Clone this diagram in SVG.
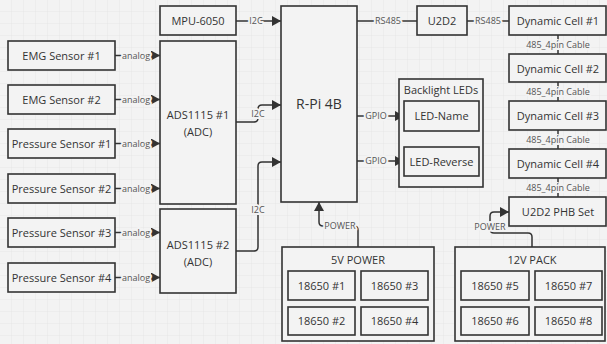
<svg xmlns="http://www.w3.org/2000/svg" width="607" height="344" viewBox="0 0 607 344">
<defs>
<pattern id="grid" width="12" height="12" patternUnits="userSpaceOnUse">
<path d="M12,0 V12 M0,12 H12" fill="none" stroke="#e6e6e6" stroke-width="1"/>
</pattern>
<marker id="arr" markerUnits="userSpaceOnUse" markerWidth="9" markerHeight="10" refX="9" refY="5" orient="auto">
<path d="M0,0 L9,5 L0,10 z" fill="#333"/>
</marker>
</defs>
<style>
.box{fill:#f3f3f3;stroke:#333;stroke-width:1.6}
.t{font-family:"Open Sans","Liberation Sans",sans-serif;font-size:11px;fill:#333;text-anchor:middle}
.big{font-size:14px}
.lbl{font-family:"Open Sans","Liberation Sans",sans-serif;font-size:9px;fill:#555;text-anchor:middle;stroke:#f3f3f3;stroke-width:4;paint-order:stroke;stroke-linejoin:round}
.c{fill:none;stroke:#333;stroke-width:1.5}
</style>
<rect width="607" height="344" fill="#f3f3f3"/>
<rect width="607" height="344" fill="url(#grid)"/>

<g id="connectors">
<path class="c" d="M115,55.5 H160" marker-end="url(#arr)"/>
<path class="c" d="M115,99.5 H160" marker-end="url(#arr)"/>
<path class="c" d="M115,143.5 H160" marker-end="url(#arr)"/>
<path class="c" d="M115,188.5 H160" marker-end="url(#arr)"/>
<path class="c" d="M115,232.5 H160" marker-end="url(#arr)"/>
<path class="c" d="M115,277.5 H160" marker-end="url(#arr)"/>
<text class="lbl" x="136" y="58.5">analog</text>
<text class="lbl" x="136" y="102.5">analog</text>
<text class="lbl" x="136" y="146.5">analog</text>
<text class="lbl" x="136" y="191.5">analog</text>
<text class="lbl" x="136" y="235.5">analog</text>
<text class="lbl" x="136" y="280.5">analog</text>

<path class="c" d="M236,21 H281" marker-end="url(#arr)"/>
<text class="lbl" x="256" y="24">I2C</text>
<path class="c" d="M236,122 H254 q4,0 4,-4 V109 q0,-4 4,-4 H281" marker-end="url(#arr)"/>
<text class="lbl" x="258" y="117">I2C</text>
<path class="c" d="M236,251 H254 q4,0 4,-4 V166 q0,-4 4,-4 H281" marker-end="url(#arr)"/>
<text class="lbl" x="258" y="213">I2C</text>

<path class="c" d="M357,21 H417"/>
<text class="lbl" x="388" y="24">RS485</text>
<path class="c" d="M467,21 H509"/>
<text class="lbl" x="488" y="24">RS485</text>

<path class="c" d="M558,35 V54"/>
<path class="c" d="M558,82 V101"/>
<path class="c" d="M558,130 V149"/>
<path class="c" d="M558,178 V197"/>
<text class="lbl" x="558" y="47.5">485_4pin Cable</text>
<text class="lbl" x="558" y="95">485_4pin Cable</text>
<text class="lbl" x="558" y="143">485_4pin Cable</text>
<text class="lbl" x="558" y="190.5">485_4pin Cable</text>

<path class="c" d="M357,116 H404" marker-end="url(#arr)"/>
<text class="lbl" x="376" y="119">GPIO</text>
<path class="c" d="M357,161 H404" marker-end="url(#arr)"/>
<text class="lbl" x="376" y="164">GPIO</text>

<path class="c" d="M358,247 V230 q0,-4 -4,-4 H323 q-4,0 -4,-4 V202" marker-end="url(#arr)"/>
<text class="lbl" x="340" y="229">POWER</text>
<path class="c" d="M532,247 V237 q0,-4 -4,-4 H494 q-4,0 -4,-4 V216 q0,-4 4,-4 H509" marker-end="url(#arr)"/>
<text class="lbl" x="490" y="230">POWER</text>
</g>

<g id="emg1"><rect class="box" x="8" y="41" width="107" height="29"/><text class="t" x="61.5" y="59.5">EMG Sensor #1</text></g>
<g id="emg2"><rect class="box" x="8" y="85" width="107" height="29"/><text class="t" x="61.5" y="103.5">EMG Sensor #2</text></g>
<g id="ps1"><rect class="box" x="8" y="129" width="107" height="29"/><text class="t" x="61.5" y="147.5">Pressure Sensor #1</text></g>
<g id="ps2"><rect class="box" x="8" y="174" width="107" height="29"/><text class="t" x="61.5" y="192.5">Pressure Sensor #2</text></g>
<g id="ps3"><rect class="box" x="8" y="218" width="107" height="29"/><text class="t" x="61.5" y="236.5">Pressure Sensor #3</text></g>
<g id="ps4"><rect class="box" x="8" y="263" width="107" height="29"/><text class="t" x="61.5" y="281.5">Pressure Sensor #4</text></g>

<g id="mpu"><rect class="box" x="160" y="6" width="76" height="29"/><text class="t" x="198" y="25">MPU-6050</text></g>
<g id="ads1"><rect class="box" x="160" y="41" width="76" height="163"/><text class="t" x="198" y="119">ADS1115 #1</text><text class="t" x="198" y="136">(ADC)</text></g>
<g id="ads2"><rect class="box" x="160" y="209" width="76" height="84"/><text class="t" x="198" y="249">ADS1115 #2</text><text class="t" x="198" y="266">(ADC)</text></g>

<g id="rpi"><rect class="box" x="281" y="6" width="76" height="196"/><text class="t big" x="319" y="109">R-Pi 4B</text></g>

<g id="u2d2"><rect class="box" x="417" y="6" width="50" height="29"/><text class="t" x="442" y="25">U2D2</text></g>

<g id="dyn1"><rect class="box" x="509" y="6" width="97" height="29"/><text class="t" x="558" y="25">Dynamic Cell #1</text></g>
<g id="dyn2"><rect class="box" x="509" y="54" width="97" height="28"/><text class="t" x="558" y="72.5">Dynamic Cell #2</text></g>
<g id="dyn3"><rect class="box" x="509" y="101" width="97" height="29"/><text class="t" x="558" y="120">Dynamic Cell #3</text></g>
<g id="dyn4"><rect class="box" x="509" y="149" width="97" height="29"/><text class="t" x="558" y="168">Dynamic Cell #4</text></g>
<g id="phb"><rect class="box" x="509" y="197" width="97" height="29"/><text class="t" x="558" y="216">U2D2 PHB Set</text></g>

<g id="backlight"><rect class="box" x="399" y="79" width="84" height="108"/><text class="t" x="441" y="94">Backlight LEDs</text>
<g id="led-name"><rect class="box" x="404" y="101" width="75" height="30"/><text class="t" x="441.5" y="120">LED-Name</text></g>
<g id="led-reverse"><rect class="box" x="404" y="147" width="75" height="29"/><text class="t" x="441.5" y="165.5">LED-Reverse</text></g>
</g>

<g id="power5v"><rect class="box" x="282" y="247" width="152" height="94"/><text class="t" x="358" y="264">5V POWER</text>
<g id="c1"><rect class="box" x="288" y="271" width="67" height="29"/><text class="t" x="321.5" y="289.5">18650 #1</text></g>
<g id="c3"><rect class="box" x="361" y="271" width="67" height="29"/><text class="t" x="394.5" y="289.5">18650 #3</text></g>
<g id="c2"><rect class="box" x="288" y="307" width="67" height="28"/><text class="t" x="321.5" y="325">18650 #2</text></g>
<g id="c4"><rect class="box" x="361" y="307" width="67" height="28"/><text class="t" x="394.5" y="325">18650 #4</text></g>
</g>

<g id="pack12v"><rect class="box" x="455" y="247" width="150" height="94"/><text class="t" x="532" y="264">12V PACK</text>
<g id="c5"><rect class="box" x="461" y="271" width="68" height="29"/><text class="t" x="495" y="289.5">18650 #5</text></g>
<g id="c7"><rect class="box" x="535" y="271" width="67" height="29"/><text class="t" x="568.5" y="289.5">18650 #7</text></g>
<g id="c6"><rect class="box" x="461" y="307" width="68" height="28"/><text class="t" x="495" y="325">18650 #6</text></g>
<g id="c8"><rect class="box" x="535" y="307" width="67" height="28"/><text class="t" x="568.5" y="325">18650 #8</text></g>
</g>
</svg>
